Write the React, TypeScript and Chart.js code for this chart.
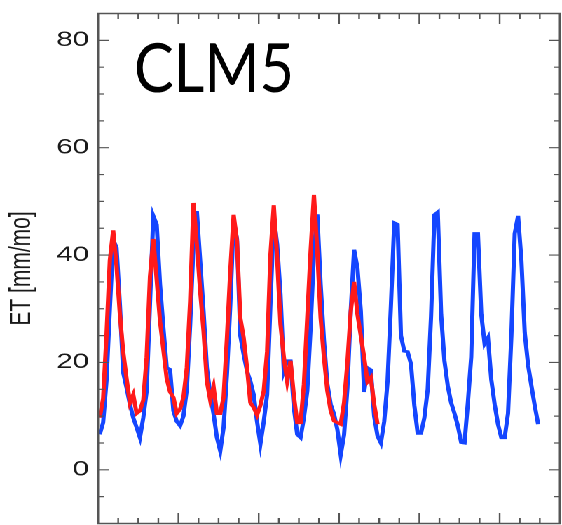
import React, { useEffect, useRef } from 'react';
import { Chart, registerables } from 'chart.js';

Chart.register(...registerables);

// ---- data (monthly ET, mm/mo) ----
const clm5Values = [
  6.6, 8.8, 16.6, 30, 42.9, 41.4, 30.8, 18.1, 15.3, 12.2, 9.7, 7.9,
  6.0, 9.7, 14.7, 31, 47.3, 45.7, 34.5, 26.5, 19, 18.7, 11, 9,
  8.2, 10, 15, 27, 42, 48.2, 38.9, 29.6, 19, 14.1, 10.4, 6,
  3.5, 7.9, 17.8, 30.8, 46.5, 43, 25, 21.5, 18.4, 16.5, 14, 9,
  4.8, 9, 14, 31, 47, 42, 32.7, 18.4, 20.3, 20.3, 11.6, 6.6,
  6, 9.7, 14.7, 26.5, 40.7, 47.6, 34.5, 24, 16, 12.2, 10.4, 7.5,
  2.8, 6.5, 15.3, 29.6, 41, 37.6, 29.6, 14.5, 19, 18.6, 10, 6.3,
  5, 9, 16.5, 30.5, 46, 45.7, 25, 22.1, 22, 19.7, 12, 6.8,
  6.8, 9.7, 15, 28.6, 47.5, 48, 29, 20.3, 15.6, 12.5, 10.5, 8.2,
  5.1, 5, 12.5, 21, 44, 44, 29, 23.5, 24.6, 16.8, 12.2, 8.5,
  6, 6, 10.5, 25, 44, 47.3, 39, 25.5, 19.5, 15.6, 11.9, 8.5,
];

const obsValues = [
  9.7, 13.3, 25, 39, 44.6, 38, 29, 22, 17, 12.5, 14, 10.5,
  11, 13, 21, 36, 43, 35.5, 27.7, 22.4, 17, 14.5, 13.5, 10.5,
  11.3, 13.5, 19, 31.4, 49.7, 42, 33.3, 25.9, 16.5, 13, 15.5, 10.5,
  10.5, 13.5, 24.6, 37, 47.5, 42.6, 28.3, 24.6, 19, 12.5, 11.6, 10.2,
  12, 14.7, 22, 40, 49.3, 39.5, 27.1, 21, 16.5, 20.3, 13.8, 8.8,
  8.8, 15.9, 28.3, 40.7, 51.2, 40.7, 28.3, 20.9, 14.7, 11, 9.1, 8.8,
  8.5, 12.5, 20, 29.5, 35, 29, 25, 21, 16.4, 17.2, 12.2, 8.5,
];

const yTickValues = [0, 20, 40, 60, 80];
const yMin = -10;
const yMax = 85;
const xMin = 0;
const xMax = 138; // months
const xMinorStep = 6;
const xMajorStep = 24;
const yMinorStep = 5;
const yMajorStep = 20;
const panelLabel = 'CLM5';
const yTitle = 'ET [mm/mo]';

// ---- layout / style ----
const W = 562;
const H = 525;
const INNER_W = 401;
const S = W / INNER_W; // horizontal stretch of the whole figure

const toPoints = (vals: number[]) => vals.map((v, i) => ({ x: i + 0.5, y: v }));

const framePlugin = {
  id: 'frameTicks',
  afterDraw(chart: any) {
    const { ctx, chartArea } = chart;
    const { left, right, top, bottom } = chartArea;
    const xs = chart.scales.x;
    const ys = chart.scales.y;
    ctx.save();
    ctx.strokeStyle = '#555';
    ctx.lineWidth = 1.2;
    // y ticks (inward, both sides)
    for (let v = yMin + yMinorStep; v < yMax; v += yMinorStep) {
      const py = ys.getPixelForValue(v);
      const len = v % yMajorStep === 0 ? 7.6 : 4.0;
      ctx.beginPath();
      ctx.moveTo(left, py);
      ctx.lineTo(left + len, py);
      ctx.moveTo(right, py);
      ctx.lineTo(right - len, py);
      ctx.stroke();
    }
    // x ticks (inward, bottom and top)
    for (let m = xMin + xMinorStep; m < xMax; m += xMinorStep) {
      const px = xs.getPixelForValue(m);
      const len = m % xMajorStep === 0 ? 10.5 : 5.5;
      ctx.beginPath();
      ctx.moveTo(px, bottom);
      ctx.lineTo(px, bottom - len);
      ctx.moveTo(px, top);
      ctx.lineTo(px, top + len);
      ctx.stroke();
    }
    ctx.lineWidth = 1.5;
    ctx.strokeRect(left, top, right - left, bottom - top);
    ctx.restore();

    // panel label, drawn without the horizontal stretch
    ctx.save();
    ctx.font = '68px Lato';
    const w = ctx.measureText(panelLabel).width;
    const targetW = 160; // in page pixels
    const k = targetW / w;
    ctx.translate(left + (134 - 98) / S, top + 78.5);
    ctx.scale(k / S, 1);
    ctx.fillStyle = '#000';
    ctx.textBaseline = 'alphabetic';
    ctx.fillText(panelLabel, 0, 0);
    ctx.restore();
  },
};

export default function App() {
  const ref = useRef<HTMLCanvasElement | null>(null);

  useEffect(() => {
    if (!ref.current) return;
    const chart = new Chart(ref.current, {
      type: 'line',
      data: {
        datasets: [
          {
            label: 'Observed',
            data: toPoints(obsValues),
            borderColor: '#ff1a1a',
            borderWidth: 3,
            pointRadius: 0,
            tension: 0,
            fill: false,
          },
          {
            label: 'CLM5',
            data: toPoints(clm5Values),
            borderColor: '#1446ff',
            borderWidth: 3,
            pointRadius: 0,
            tension: 0,
            fill: false,
          },
        ],
      },
      options: {
        animation: false,
        responsive: true,
        maintainAspectRatio: false,
        devicePixelRatio: 2,
        layout: { padding: { top: 13.5, right: 1, bottom: 0.5, left: 0 } },
        plugins: {
          legend: { display: false },
          tooltip: { enabled: false },
        },
        scales: {
          x: {
            type: 'linear',
            min: xMin,
            max: xMax,
            display: false,
          },
          y: {
            type: 'linear',
            min: yMin,
            max: yMax,
            afterBuildTicks: (scale: any) => {
              scale.ticks = yTickValues.map((v) => ({ value: v }));
            },
            afterFit: (scale: any) => {
              scale.width = 70;
              scale.paddingTop = 0;
              scale.paddingBottom = 0;
            },
            grid: { display: false, drawTicks: false },
            border: { display: false },
            ticks: {
              font: { family: 'Liberation Sans', size: 21 },
              color: '#1a1a1a',
              padding: 6.4,
            },
            title: {
              display: true,
              text: yTitle,
              font: { family: 'Liberation Sans', size: 21 },
              color: '#1a1a1a',
              padding: { top: 3, bottom: 0 },
            },
          },
        },
      },
      plugins: [framePlugin],
    });
    return () => chart.destroy();
  }, []);

  return (
    <div
      style={{
        position: 'absolute',
        left: 0,
        top: 0,
        width: INNER_W,
        height: H,
        transform: `scaleX(${S})`,
        transformOrigin: '0 0',
        background: '#fff',
      }}
    >
      <canvas ref={ref} />
    </div>
  );
}
